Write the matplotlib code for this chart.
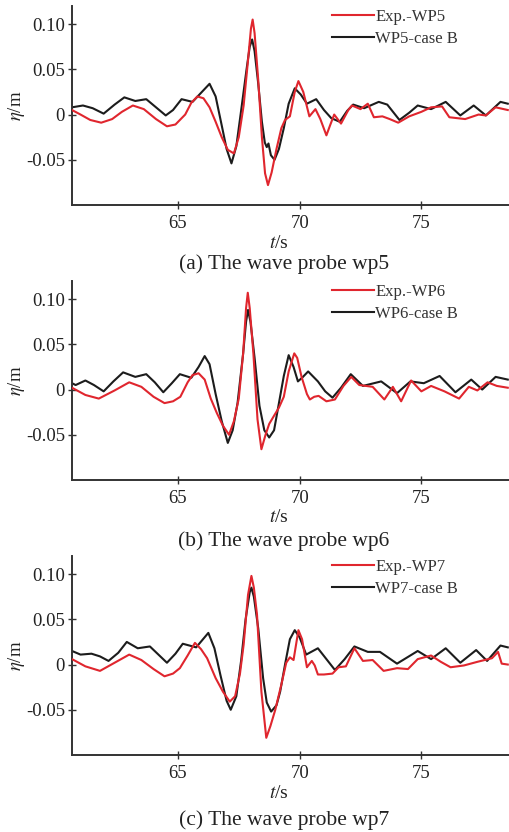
import matplotlib
matplotlib.use("Agg")
import matplotlib.pyplot as plt

# ---------------- data ----------------
t_exp5 = [60.65, 61.0, 61.4, 61.85, 62.3, 62.7, 63.15, 63.6, 64.1, 64.55, 64.9, 65.3, 65.55, 65.8, 66.05, 66.3,
          66.55, 66.8, 67.05, 67.3, 67.5, 67.7, 67.88, 68.0, 68.07, 68.15, 68.3, 68.45, 68.58, 68.7, 68.85, 69.05,
          69.25, 69.4, 69.6, 69.8, 69.95, 70.15, 70.4, 70.65, 70.85, 71.1, 71.25, 71.42, 71.7, 72.0, 72.15, 72.5,
          72.8, 73.05, 73.4, 73.7, 74.05, 74.5, 75.0, 75.4, 75.85, 76.15, 76.8, 77.35, 77.65, 78.05, 78.55]
e_exp5 = [0.005, 0.000, -0.006, -0.009, -0.005, 0.003, 0.010, 0.006, -0.005, -0.013, -0.011, 0.000, 0.013, 0.020,
          0.018, 0.008, -0.008, -0.025, -0.039, -0.043, -0.025, 0.010, 0.060, 0.095, 0.105, 0.090, 0.038, -0.025,
          -0.065, -0.078, -0.064, -0.038, -0.015, -0.006, -0.002, 0.025, 0.037, 0.025, -0.002, 0.006, -0.005, -0.023,
          -0.012, 0.000, -0.010, 0.005, 0.010, 0.006, 0.012, -0.003, -0.002, -0.005, -0.009, -0.002, 0.003, 0.008,
          0.009, -0.003, -0.005, 0.000, -0.001, 0.008, 0.005]

t_cfd5 = [60.65, 61.1, 61.5, 61.95, 62.4, 62.8, 63.25, 63.7, 64.1, 64.5, 64.8, 65.15, 65.6, 65.95, 66.3, 66.55,
          66.8, 67.0, 67.2, 67.4, 67.6, 67.82, 67.95, 68.05, 68.15, 68.3, 68.45, 68.57, 68.65, 68.72, 68.82, 68.97,
          69.15, 69.35, 69.55, 69.8, 70.05, 70.3, 70.68, 71.0, 71.3, 71.65, 71.95, 72.2, 72.65, 73.25, 73.6, 74.1,
          74.5, 74.85, 75.4, 76.0, 76.6, 77.15, 77.65, 78.25, 78.55]
e_cfd5 = [0.008, 0.010, 0.007, 0.001, 0.011, 0.019, 0.015, 0.017, 0.008, -0.001, 0.005, 0.017, 0.014, 0.024, 0.034,
          0.020, -0.012, -0.038, -0.054, -0.035, 0.005, 0.050, 0.075, 0.083, 0.070, 0.034, -0.008, -0.031, -0.036,
          -0.032, -0.045, -0.050, -0.038, -0.015, 0.012, 0.029, 0.022, 0.012, 0.017, 0.005, -0.004, -0.008, 0.004,
          0.011, 0.007, 0.014, 0.011, -0.006, 0.002, 0.010, 0.006, 0.014, -0.001, 0.010, -0.001, 0.014, 0.012]

t_exp6 = [60.65, 61.2, 61.75, 62.4, 63.0, 63.5, 64.0, 64.45, 64.8, 65.1, 65.4, 65.6, 65.85, 66.1, 66.35, 66.6, 66.85,
          67.1, 67.3, 67.5, 67.68, 67.8, 67.87, 67.95, 68.1, 68.27, 68.43, 68.6, 68.75, 68.97, 69.15, 69.35, 69.55,
          69.78, 69.9, 70.08, 70.3, 70.42, 70.6, 70.78, 71.1, 71.45, 71.8, 72.12, 72.45, 73.0, 73.48, 73.83, 74.17,
          74.58, 75.0, 75.4, 75.95, 76.55, 76.95, 77.3, 77.72, 78.1, 78.55]
e_exp6 = [0.002, -0.006, -0.010, -0.001, 0.008, 0.003, -0.008, -0.015, -0.013, -0.008, 0.008, 0.016, 0.018, 0.011,
          -0.010, -0.026, -0.040, -0.050, -0.035, -0.010, 0.040, 0.090, 0.107, 0.090, 0.040, -0.033, -0.066, -0.050,
          -0.038, -0.028, -0.020, -0.008, 0.020, 0.040, 0.035, 0.014, -0.005, -0.011, -0.008, -0.007, -0.013, -0.011,
          0.004, 0.014, 0.005, 0.003, -0.011, 0.003, -0.013, 0.010, -0.002, 0.004, -0.002, -0.010, 0.003, -0.001,
          0.008, 0.004, 0.002]

t_cfd6 = [60.65, 60.8, 61.2, 61.55, 61.95, 62.35, 62.75, 63.25, 63.7, 64.05, 64.4, 64.75, 65.08, 65.55, 65.85, 66.1,
          66.3, 66.55, 66.8, 67.05, 67.25, 67.45, 67.68, 67.8, 67.88, 67.98, 68.15, 68.35, 68.55, 68.75, 68.95, 69.15,
          69.35, 69.55, 69.75, 69.93, 70.1, 70.35, 70.75, 71.05, 71.35, 71.7, 72.1, 72.6, 73.35, 74.0, 74.55, 75.1,
          75.75, 76.4, 77.05, 77.5, 78.05, 78.55]
e_cfd6 = [0.007, 0.005, 0.010, 0.005, -0.002, 0.009, 0.019, 0.014, 0.017, 0.008, -0.003, 0.007, 0.017, 0.013, 0.025,
          0.037, 0.028, -0.005, -0.035, -0.059, -0.045, -0.015, 0.040, 0.075, 0.088, 0.075, 0.035, -0.018, -0.045,
          -0.053, -0.045, -0.015, 0.015, 0.038, 0.025, 0.009, 0.013, 0.020, 0.009, -0.002, -0.009, 0.002, 0.017, 0.004,
          0.009, -0.004, 0.009, 0.007, 0.015, -0.003, 0.011, 0.000, 0.014, 0.011]

t_exp7 = [60.65, 61.2, 61.8, 62.4, 63.0, 63.5, 64.0, 64.45, 64.8, 65.08, 65.4, 65.7, 65.95, 66.2, 66.55, 66.85,
          67.13, 67.35, 67.55, 67.7, 67.88, 68.02, 68.12, 68.25, 68.43, 68.63, 68.8, 69.0, 69.25, 69.45, 69.6, 69.75,
          69.95, 70.1, 70.3, 70.5, 70.62, 70.75, 71.0, 71.35, 71.6, 71.9, 72.25, 72.6, 73.0, 73.45, 74.0, 74.45, 74.85,
          75.4, 75.8, 76.2, 76.75, 77.3, 77.9, 78.15, 78.3, 78.55]
e_exp7 = [0.006, -0.002, -0.007, 0.002, 0.011, 0.005, -0.005, -0.013, -0.010, -0.004, 0.010, 0.024, 0.017, 0.007,
          -0.015, -0.030, -0.041, -0.035, -0.010, 0.022, 0.077, 0.098, 0.085, 0.055, -0.030, -0.081, -0.068, -0.050,
          -0.022, 0.002, 0.008, 0.005, 0.038, 0.028, -0.003, 0.004, -0.001, -0.011, -0.011, -0.010, -0.003, -0.002,
          0.018, 0.004, 0.005, -0.007, -0.004, -0.005, 0.006, 0.010, 0.003, -0.003, -0.001, 0.003, 0.007, 0.014,
          0.001, 0.000]

t_cfd7 = [60.65, 61.0, 61.45, 61.8, 62.15, 62.55, 62.9, 63.35, 63.85, 64.2, 64.55, 64.9, 65.2, 65.75, 66.0, 66.25,
          66.5, 66.75, 67.0, 67.17, 67.4, 67.6, 67.78, 67.95, 68.02, 68.12, 68.3, 68.5, 68.65, 68.83, 69.05, 69.2,
          69.4, 69.6, 69.8, 70.0, 70.27, 70.75, 71.1, 71.45, 71.85, 72.25, 72.8, 73.3, 74.0, 74.85, 75.4, 76.0, 76.6,
          77.25, 77.7, 78.25, 78.55]
e_cfd7 = [0.015, 0.011, 0.012, 0.009, 0.004, 0.013, 0.025, 0.018, 0.020, 0.011, 0.002, 0.012, 0.023, 0.019, 0.027,
          0.035, 0.018, -0.012, -0.040, -0.050, -0.035, 0.005, 0.050, 0.080, 0.085, 0.075, 0.040, -0.015, -0.042,
          -0.052, -0.045, -0.030, 0.000, 0.028, 0.038, 0.030, 0.011, 0.018, 0.006, -0.006, 0.006, 0.020, 0.014, 0.014,
          0.001, 0.015, 0.006, 0.018, 0.002, 0.016, 0.004, 0.021, 0.019]

exp_labels = ["Exp.-WP5", "Exp.-WP6", "Exp.-WP7"]
cfd_labels = ["WP5-case B", "WP6-case B", "WP7-case B"]
captions = ["(a) The wave probe wp5", "(b) The wave probe wp6", "(c) The wave probe wp7"]
yticks = [-0.05, 0, 0.05, 0.10]
ytick_labels = ["-0.05", "0", "0.05", "0.10"]
xticks = [65, 70, 75]

# ---------------- figure ----------------
plt.rcParams['font.family'] = ['Liberation Serif', 'DejaVu Serif']
plt.rcParams['mathtext.fontset'] = 'stix'

W, H = 509, 832
fig = plt.figure(figsize=(W / 100, H / 100), dpi=100)

RED = "#e0262e"
BLACK = "#1c1c1c"
SPINE = "#333333"

series = [(t_exp5, e_exp5, t_cfd5, e_cfd5),
          (t_exp6, e_exp6, t_cfd6, e_cfd6),
          (t_exp7, e_exp7, t_cfd7, e_cfd7)]

# axes geometry in pixels: (top, bottom)
panels_px = [(6, 205), (281, 480), (556, 755)]
xlabel_y = [243, 518, 794]
caption_y = [264, 541, 820]

left_px, right_px = 72, 509
for i, (ta, ea, tb, eb) in enumerate(series):
    top, bot = panels_px[i]
    ax = fig.add_axes([left_px / W, 1 - bot / H, (right_px - left_px) / W, (bot - top) / H])
    ax.plot(ta, ea, color=RED, lw=1.5, label=exp_labels[i], zorder=3, solid_joinstyle='round')
    ax.plot(tb, eb, color=BLACK, lw=1.5, label=cfd_labels[i], zorder=2, solid_joinstyle='round')
    ax.set_xlim(60.65, 78.6)
    ax.set_ylim(-0.10, 0.12)
    ax.set_xticks(xticks)
    ax.set_xticklabels([str(x) for x in xticks])
    ax.set_yticks(yticks)
    ax.set_yticklabels(ytick_labels)
    for s in ['top', 'right']:
        ax.spines[s].set_visible(False)
    for s in ['left', 'bottom']:
        ax.spines[s].set_color(SPINE)
        ax.spines[s].set_linewidth(1.4)
    ax.tick_params(axis='both', direction='inout', length=6, width=1.0, colors=SPINE,
                   labelsize=13.5, labelcolor='#222222')
    ax.tick_params(axis='x', pad=4)
    ax.tick_params(axis='y', pad=2)
    ax.set_ylabel(r"$\eta$/m", fontsize=13.5, color='#222222')
    ax.yaxis.set_label_coords(-(left_px - 17) / (right_px - left_px), 0.5)
    ax.yaxis.label.set_va('center')
    leg = ax.legend(loc='upper left', bbox_to_anchor=(0.595, 0.985), frameon=False,
                    fontsize=12, handlelength=2.5, handletextpad=0.1, labelspacing=0.35,
                    borderpad=0.0, borderaxespad=0.0)
    for txt in leg.get_texts():
        txt.set_color('#333333')
    fig.text(279 / W, 1 - xlabel_y[i] / H, r"$t$/s", ha='center', va='center',
             fontsize=14, color='#222222')
    fig.text(284 / W, 1 - caption_y[i] / H, captions[i], ha='center', va='center',
             fontsize=15.5, color='#222222')

fig.savefig("out.png", dpi=100, facecolor='white')
